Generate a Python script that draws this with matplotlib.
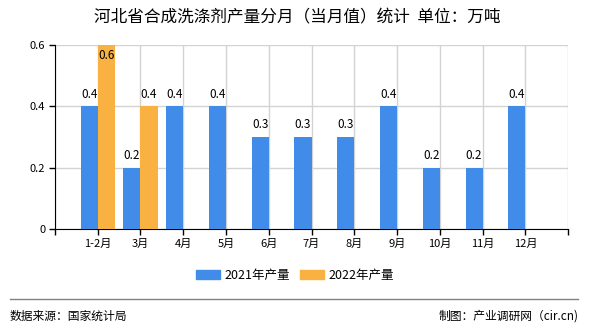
import matplotlib.pyplot as plt
import matplotlib as mpl
import numpy as np
from matplotlib.patches import Patch

mpl.rcParams['font.family'] = ['Noto Sans CJK SC', 'DejaVu Sans']

# 数据
months = ['1-2月', '3月', '4月', '5月', '6月', '7月', '8月', '9月', '10月', '11月', '12月']
prod_2021 = [0.4, 0.2, 0.4, 0.4, 0.3, 0.3, 0.3, 0.4, 0.2, 0.2, 0.4]
prod_2022 = [0.6, 0.4]

blue = '#418be9'
orange = '#f9b242'

fig = plt.figure(figsize=[5.9, 3.3], dpi=100)
ax = fig.add_axes([0.093, 0.306, 0.870, 0.558])

x = np.arange(len(months))
w = 0.4
ax.bar(x - w / 2, prod_2021, width=w, color=blue, zorder=3)
ax.bar(x[:len(prod_2022)] + w / 2, prod_2022, width=w, color=orange, zorder=3)

# 柱顶数值
top = 0.6
for xi, v in zip(x - w / 2, prod_2021):
    ax.annotate(f'{v:.1f}', xy=(xi, v), xytext=(0, 4), textcoords='offset points',
                ha='center', va='bottom', fontsize=8.5, zorder=4)
for xi, v in zip(x[:len(prod_2022)] + w / 2, prod_2022):
    if v >= top:
        ax.annotate(f'{v:.1f}', xy=(xi, v), xytext=(0, -3), textcoords='offset points',
                    ha='center', va='top', fontsize=8.5, zorder=4)
    else:
        ax.annotate(f'{v:.1f}', xy=(xi, v), xytext=(0, 4), textcoords='offset points',
                    ha='center', va='bottom', fontsize=8.5, zorder=4)

# 坐标轴
ax.set_xlim(-1, 11)
ax.set_ylim(0, top)
ax.set_xticks(np.arange(-1, 12))
ax.set_xticklabels([''] + months + [''], fontsize=8)
ax.set_yticks([0, 0.2, 0.4, 0.6])
ax.set_yticklabels(['0', '0.2', '0.4', '0.6'], fontsize=8)
ax.tick_params(axis='both', length=4, width=1, color='black', pad=3)
ax.grid(color='#d3d3d3', linewidth=1, zorder=0)
ax.spines['top'].set_color('none')
ax.spines['right'].set_color('none')
ax.spines['left'].set_color('black')
ax.spines['bottom'].set_color('black')

# 标题
fig.text(0.503, 0.945, '河北省合成洗涤剂产量分月（当月值）统计  单位：万吨',
         ha='center', va='center', fontsize=12)

# 图例
handles = [Patch(color=blue, label='2021年产量'), Patch(color=orange, label='2022年产量')]
fig.legend(handles=handles, loc='center', bbox_to_anchor=(0.5, 0.165), ncol=2,
           frameon=False, fontsize=9, handlelength=1.9, handleheight=0.8,
           columnspacing=0.8, handletextpad=0.4)

# 底部来源
fig.add_artist(plt.Line2D([0.017, 0.98], [0.094, 0.094], color='#808080', linewidth=1))
fig.text(0.017, 0.042, '数据来源：国家统计局', ha='left', va='center', fontsize=8.5)
fig.text(0.98, 0.042, '制图：产业调研网（cir.cn)', ha='right', va='center', fontsize=8.5)

plt.savefig('out.png', dpi=100)
